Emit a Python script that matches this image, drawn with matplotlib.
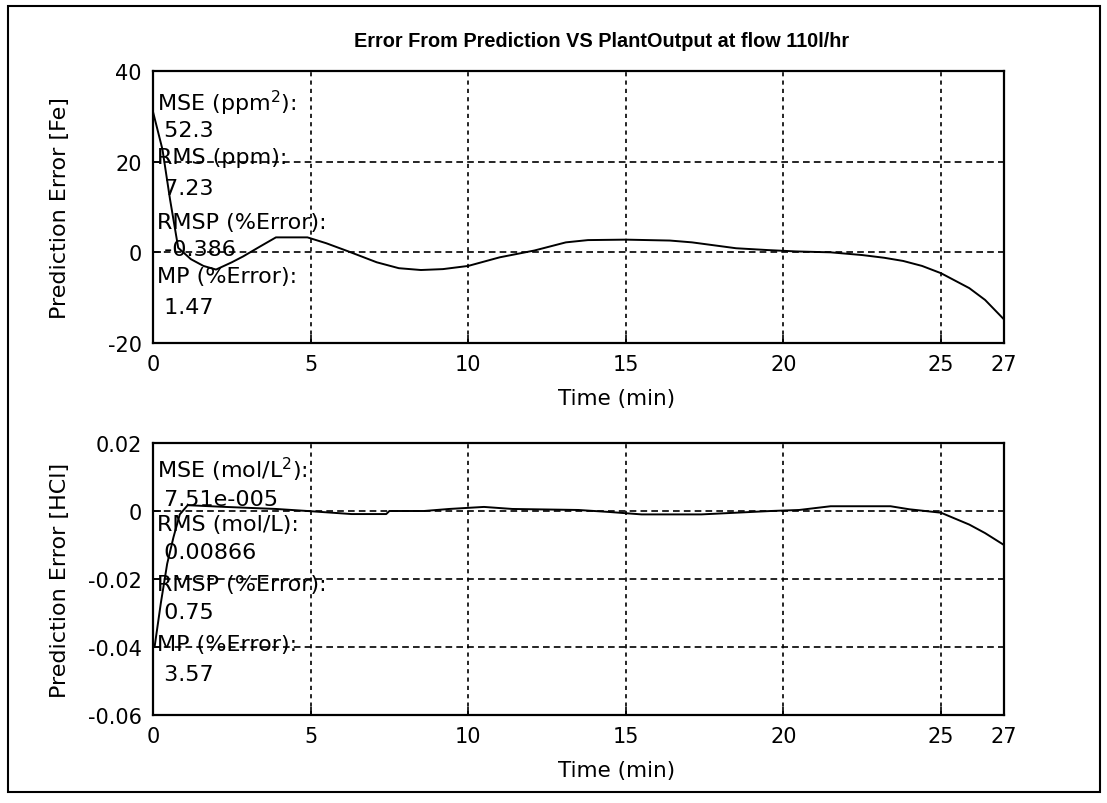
import matplotlib
matplotlib.use("Agg")
import matplotlib.pyplot as plt
from matplotlib.patches import Rectangle

# ---- data ----
t_fe = [0.0, 0.3, 0.54, 0.8, 1.2, 1.6, 2.0, 2.5, 2.86, 3.4, 3.9, 4.9, 5.5, 6.2, 7.1, 7.8,
        8.5, 9.2, 10.0, 11.0, 12.1, 13.1, 13.8, 15.0, 16.4, 17.1, 18.5, 19.5, 20.4,
        21.5, 22.5, 23.2, 23.8, 24.4, 25.0, 25.9, 26.4, 27.0]
err_fe = [31, 22.7, 11.7, 1.0, -1.5, -3.0, -3.8, -2.2, -0.9, 1.3, 3.3, 3.3, 2.0, 0.2, -2.2, -3.5,
          -3.9, -3.7, -3.0, -1.1, 0.4, 2.2, 2.7, 2.8, 2.6, 2.2, 0.9, 0.5, 0.2,
          0.0, -0.6, -1.2, -1.9, -3.0, -4.6, -7.9, -10.5, -14.8]

t_hcl = [0.05, 0.25, 0.45, 0.65, 0.85, 1.1, 2.3, 3.9, 4.9, 6.3, 7.4, 7.5, 8.6, 9.4, 10.5,
         11.4, 13.5, 14.5, 15.5, 17.4, 18.5, 19.6, 20.5, 21.5, 23.4, 24.0, 25.0, 25.9, 26.4, 27.0]
err_hcl = [-0.040, -0.027, -0.0155, -0.0077, -0.001, 0.0017, 0.0012, 0.0006, 0.0, -0.0009,
           -0.0009, 0.0, 0.0, 0.0006, 0.0012, 0.0006, 0.0003, -0.0003, -0.001, -0.001,
           -0.0005, 0.0, 0.0003, 0.0014, 0.0014, 0.0005, -0.0005, -0.004, -0.0065, -0.010]

xticks = [0, 5, 10, 15, 20, 25, 27]
yticks_fe = [-20, 0, 20, 40]
yticks_hcl = [-0.06, -0.04, -0.02, 0, 0.02]
ytick_labels_hcl = ["-0.06", "-0.04", "-0.02", "0", "0.02"]

stats_fe = ["MSE (ppm$^2$):", " 52.3", "RMS (ppm):", " 7.23", "RMSP (%Error):", " -0.386",
            "MP (%Error):", " 1.47"]
stats_fe_y = [33, 27, 21, 14.3, 6.8, 0.7, -5.3, -12]
stats_hcl = ["MSE (mol/L$^2$):", " 7.51e-005", "RMS (mol/L):", " 0.00866", "RMSP (%Error):",
             " 0.75", "MP (%Error):", " 3.57"]
stats_hcl_y = [0.0124, 0.0035, -0.0038, -0.012, -0.0215, -0.0297, -0.039, -0.048]

title = "Error From Prediction VS PlantOutput at flow 110l/hr"

plt.rcParams['font.family'] = ['DejaVu Sans']
plt.rcParams['axes.unicode_minus'] = False
W, H = 1107, 804
fig = plt.figure(figsize=(W / 100, H / 100), dpi=100)

fig.patches.append(Rectangle((8 / W, 1 - 793 / H), (1100 - 8) / W, (793 - 7) / H,
                             transform=fig.transFigure, fill=False, ec='black', lw=1.5))

def make_ax(top_px, t, y, ylim, yticks, ylabels, ylabel, texts, texts_y):
    ax = fig.add_axes([153 / W, 1 - (top_px + 272) / H, 851 / W, 272 / H])
    ax.plot(t, y, color='black', lw=1.4)
    ax.set_xlim(0, 27)
    ax.set_ylim(*ylim)
    ax.set_xticks(xticks)
    ax.set_yticks(yticks)
    if ylabels is not None:
        ax.set_yticklabels(ylabels)
    ax.tick_params(direction='in', length=6, width=1.2, labelsize=15, pad=8, colors='black')
    for s in ax.spines.values():
        s.set_linewidth(1.6)
    ax.xaxis.grid(True, color='black', linestyle=(0, (2.5, 2.5)), lw=1.2)
    ax.yaxis.grid(True, color='black', linestyle=(0, (4, 2.5)), lw=1.2)
    ax.set_ylabel(ylabel, fontsize=16)
    ax.yaxis.set_label_coords(-0.097, 0.5)
    ax.set_xlabel("Time (min)", fontsize=15.5)
    ax.xaxis.set_label_coords(0.545, -0.165)
    for s, yy in zip(texts, texts_y):
        ax.text(0.12, yy, s, fontsize=16, va='center', ha='left')
    return ax

ax1 = make_ax(72, t_fe, err_fe, (-20, 40), yticks_fe, None, "Prediction Error [Fe]",
              stats_fe, stats_fe_y)
ax1.set_title(title, fontsize=14.3, fontweight='bold', family=['Liberation Sans', 'DejaVu Sans'],
              pad=18, x=0.527)
ax2 = make_ax(444, t_hcl, err_hcl, (-0.06, 0.02), yticks_hcl, ytick_labels_hcl,
              "Prediction Error [HCl]", stats_hcl, stats_hcl_y)

fig.savefig("out.png", dpi=100)
